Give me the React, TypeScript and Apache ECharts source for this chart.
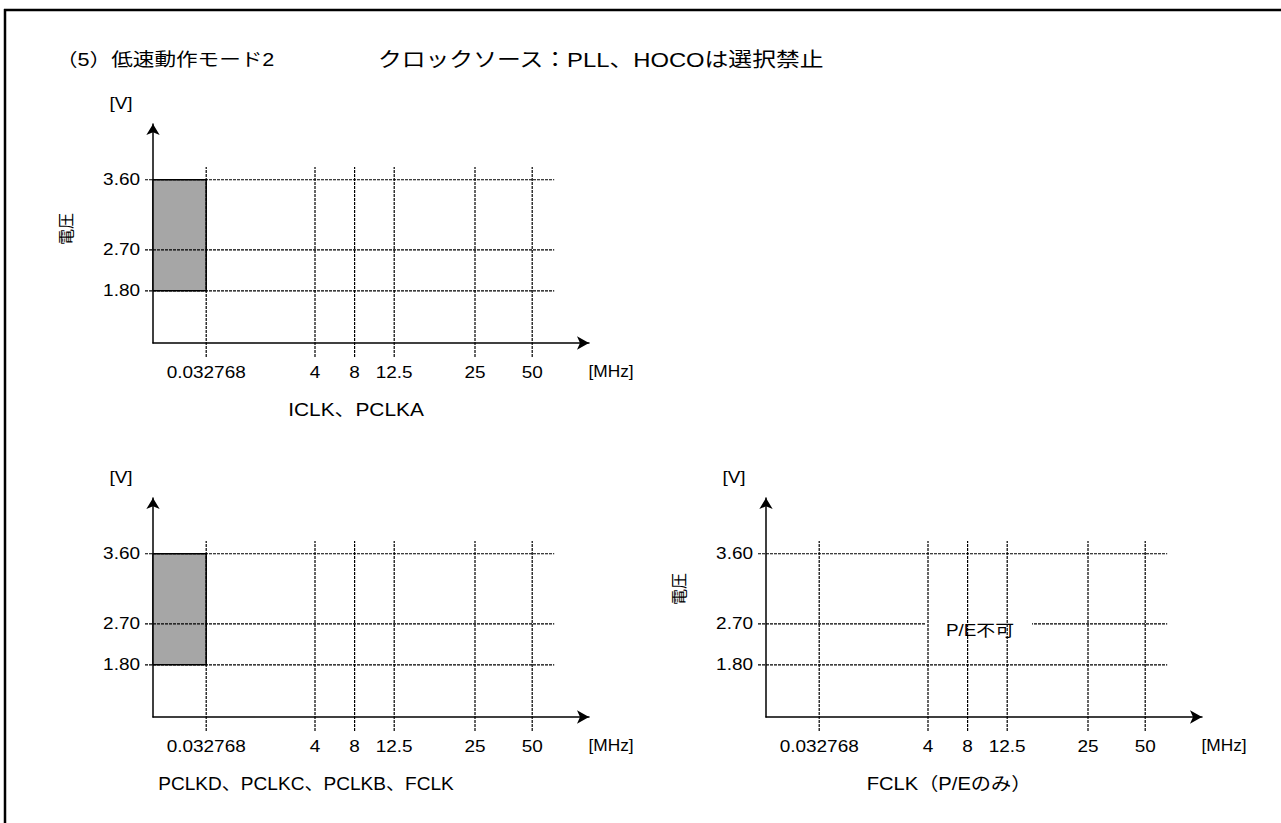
import React, { useEffect, useRef } from "react";
import * as echarts from "echarts";

// ---- data ----
const FREQ_LABELS = ["0.032768", "4", "8", "12.5", "25", "50"];
// schematic (non-linear) positions of each frequency tick along the frequency axis
const FREQ_SLOTS = [1.33, 4.05, 5.04, 6.03, 8.05, 9.48];
const VOLT_LABELS = ["1.80", "2.70", "3.60"];
// schematic positions of each voltage tick along the voltage axis
const VOLT_SLOTS = [1.31, 2.34, 4.1];
const PANEL_NAMES = ["ICLK、PCLKA", "PCLKD、PCLKC、PCLKB、FCLK", "FCLK（P/Eのみ）"];
// upper frequency of the operating region per panel (null = no region)
const REGION_FREQ: (string | null)[] = ["0.032768", "0.032768", null];
const REGION_VOLT = ["1.80", "3.60"];
const BLOCKED_TEXT: (string | null)[] = [null, null, "P/E不可"];
const SHOW_Y_NAME = [true, false, true];
const HEADING_LEFT = "（5）低速動作モード2";
const HEADING_RIGHT = "クロックソース：PLL、HOCOは選択禁止";
const X_UNIT = "[MHz]";
const Y_UNIT = "[V]";
const Y_NAME = "電圧";

// ---- layout ----
const ORIGINS = [
  [153, 343],
  [153, 717],
  [766, 717],
];
const NAME_DX = [203, 153, 183];
const NAME_SX = [1.16, 1.06, 1.12];
const YNAME_DY = [114, 0, 128];
const GW = 436;
const GH = 219;
const XMAX = 10.9;
const YMAX = 5.5;
const LATIN = "'Liberation Sans', Arial, sans-serif";
const CJK = "'Liberation Sans', 'Noto Sans CJK JP', sans-serif";
const FS = 16.5;
const SX = 1.15;

const slotOfFreq = (f: string) => FREQ_SLOTS[FREQ_LABELS.indexOf(f)];
const slotOfVolt = (v: string) => VOLT_SLOTS[VOLT_LABELS.indexOf(v)];

const txt = (
  text: string,
  x: number,
  y: number,
  align: string,
  fontSize: number,
  fontFamily: string,
  scaleX: number,
  extra: any = {}
) => ({
  type: "text",
  x,
  y,
  scaleX,
  ...extra,
  style: { text, x: 0, y: 0, align, verticalAlign: "middle", fontSize, fontFamily, fill: "#000" },
});

export default function App() {
  const ref = useRef<HTMLDivElement>(null);
  useEffect(() => {
    if (!ref.current) return;
    const chart = echarts.init(ref.current, undefined, { renderer: "svg" });
    const grids: any[] = [];
    const xAxes: any[] = [];
    const yAxes: any[] = [];
    const series: any[] = [];
    const graphics: any[] = [];
    const dash = [3, 1];

    ORIGINS.forEach(([ox, oy], i) => {
      grids.push({ left: ox, top: oy - GH, width: GW, height: GH });
      xAxes.push({
        type: "value",
        gridIndex: i,
        min: 0,
        max: XMAX,
        axisLine: {
          show: true,
          symbol: ["none", "arrow"],
          symbolSize: [10, 12],
          lineStyle: { color: "#000", width: 1.5 },
        },
        axisTick: { show: false },
        axisLabel: { show: false },
        splitLine: { show: false },
      });
      yAxes.push({
        type: "value",
        gridIndex: i,
        min: 0,
        max: YMAX,
        axisLine: {
          show: true,
          symbol: ["none", "arrow"],
          symbolSize: [10, 11],
          lineStyle: { color: "#000", width: 1.5 },
        },
        axisTick: { show: false },
        axisLabel: { show: false },
        splitLine: { show: false },
      });

      const rf = REGION_FREQ[i];
      if (rf) {
        series.push({
          type: "custom",
          xAxisIndex: i,
          yAxisIndex: i,
          z: 3,
          data: [[0, slotOfFreq(rf), slotOfVolt(REGION_VOLT[0]), slotOfVolt(REGION_VOLT[1])]],
          renderItem: (_p: any, api: any) => {
            const a = api.coord([api.value(0), api.value(3)]);
            const b = api.coord([api.value(1), api.value(2)]);
            return {
              type: "rect",
              shape: { x: a[0], y: a[1], width: b[0] - a[0], height: b[1] - a[1] },
              style: { fill: "#a6a6a6", stroke: "#000", lineWidth: 1.5 },
            };
          },
        });
      }

      // horizontal (voltage) lines + labels
      series.push({
        type: "custom",
        xAxisIndex: i,
        yAxisIndex: i,
        z: 4,
        clip: false,
        data: VOLT_SLOTS.map((v, k) => [v, k]),
        renderItem: (_p: any, api: any) => {
          const v = api.value(0);
          const k = api.value(1);
          const p0 = api.coord([-0.2, v]);
          const p1 = api.coord([10.03, v]);
          return {
            type: "group",
            children: [
              {
                type: "line",
                shape: { x1: p0[0], y1: p0[1], x2: p1[0], y2: p1[1] },
                style: { stroke: "#000", lineWidth: 1.2, lineDash: dash },
              },
              txt(VOLT_LABELS[k], p0[0] - 5, p0[1], "right", FS, LATIN, SX),
            ],
          };
        },
      });

      const bt = BLOCKED_TEXT[i];
      if (bt) {
        series.push({
          type: "custom",
          xAxisIndex: i,
          yAxisIndex: i,
          z: 5,
          clip: false,
          data: [[3.98, 6.65, slotOfVolt("2.70"), 5.35]],
          renderItem: (_p: any, api: any) => {
            const a = api.coord([api.value(0), api.value(2)]);
            const b = api.coord([api.value(1), api.value(2)]);
            const c = api.coord([api.value(3), api.value(2)]);
            return {
              type: "group",
              children: [
                {
                  type: "rect",
                  shape: { x: a[0], y: a[1] - 3, width: b[0] - a[0], height: 6 },
                  style: { fill: "#fff" },
                },
                txt(bt, c[0], c[1] + 7, "center", 16, CJK, 1.18),
              ],
            };
          },
        });
      }

      // vertical (frequency) lines + labels
      series.push({
        type: "custom",
        xAxisIndex: i,
        yAxisIndex: i,
        z: 6,
        clip: false,
        data: FREQ_SLOTS.map((f, k) => [f, k]),
        renderItem: (_p: any, api: any) => {
          const f = api.value(0);
          const k = api.value(1);
          const p0 = api.coord([f, -0.35]);
          const p1 = api.coord([f, 4.42]);
          const base = api.coord([f, 0]);
          return {
            type: "group",
            children: [
              {
                type: "line",
                shape: { x1: p0[0], y1: p0[1], x2: p1[0], y2: p1[1] },
                style: { stroke: "#000", lineWidth: 1.2, lineDash: dash },
              },
              txt(FREQ_LABELS[k], base[0], base[1] + 29, "center", FS, LATIN, SX),
            ],
          };
        },
      });

      graphics.push(
        txt(X_UNIT, ox + 458, oy + 29, "center", FS, LATIN, 1.05),
        txt(Y_UNIT, ox - 32, oy - 240, "center", FS, LATIN, SX),
        txt(PANEL_NAMES[i], ox + NAME_DX[i], oy + 67, "center", 18, CJK, NAME_SX[i])
      );
      if (SHOW_Y_NAME[i]) {
        graphics.push(
          txt(Y_NAME, ox - 87, oy - YNAME_DY[i], "center", 16, CJK, 1, { rotation: Math.PI / 2 })
        );
      }
    });

    graphics.push(
      { type: "line", shape: { x1: 4, y1: 10, x2: 1281, y2: 10 }, style: { stroke: "#000", lineWidth: 2.5 } },
      { type: "line", shape: { x1: 5, y1: 9, x2: 5, y2: 823 }, style: { stroke: "#000", lineWidth: 2.5 } },
      txt(HEADING_LEFT, 56, 60, "left", 18, CJK, 1.2),
      txt(HEADING_RIGHT, 378, 60, "left", 20, CJK, 1.19)
    );

    chart.setOption({
      animation: false,
      backgroundColor: "#fff",
      grid: grids,
      xAxis: xAxes,
      yAxis: yAxes,
      series,
      graphic: graphics,
    });
    return () => chart.dispose();
  }, []);
  return (
    <div
      ref={ref}
      style={{ position: "fixed", left: 0, top: 0, width: 1281, height: 823, background: "#fff" }}
    />
  );
}
